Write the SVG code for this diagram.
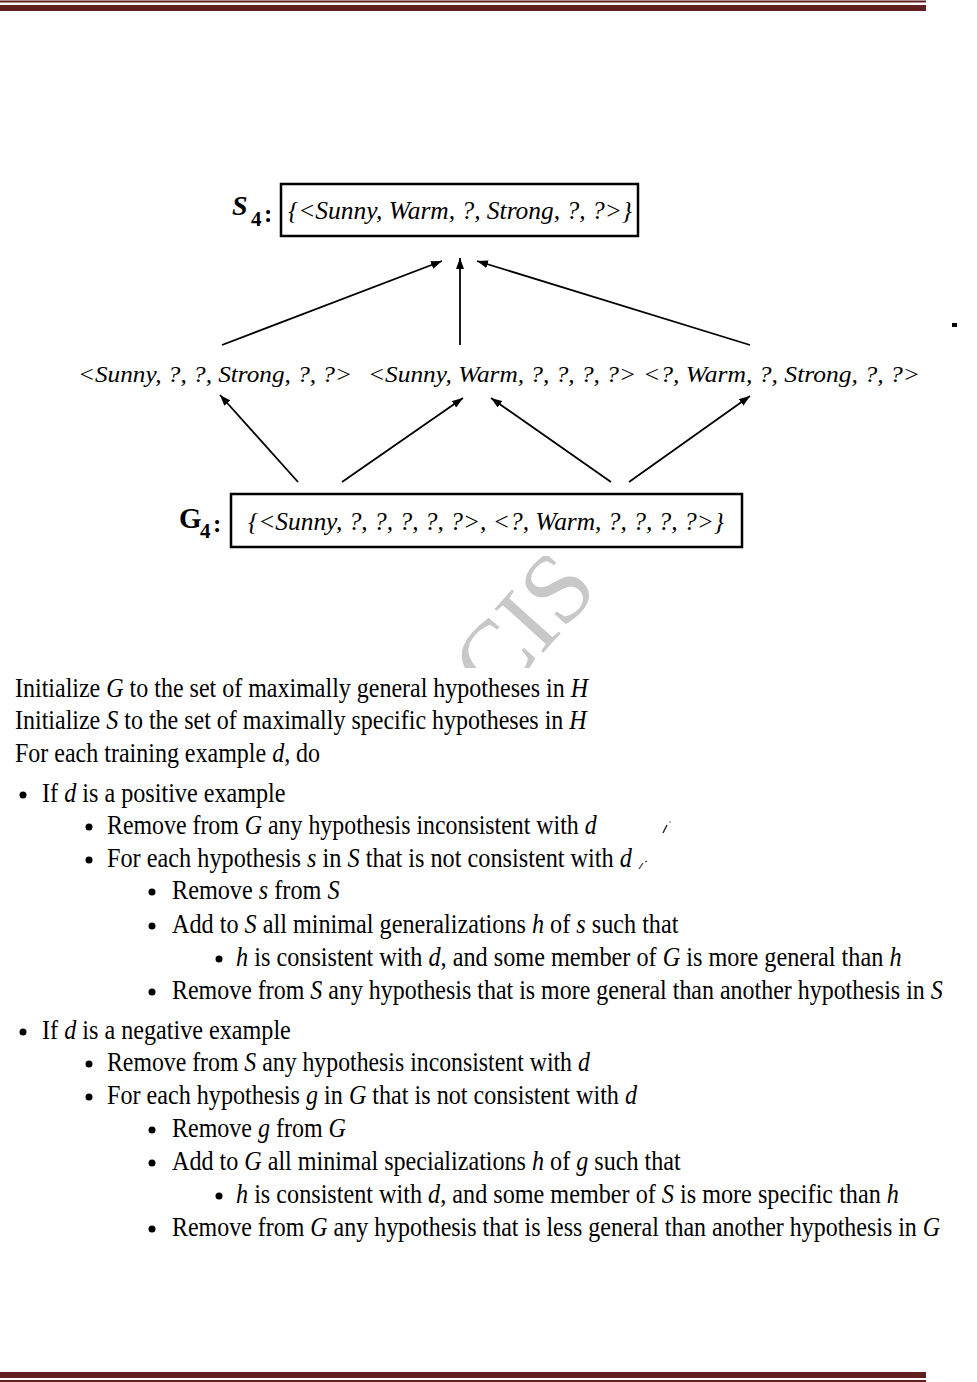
<svg xmlns="http://www.w3.org/2000/svg" width="977" height="1382" viewBox="0 0 977 1382">
<style>
.lbl{font-family:"Liberation Serif","Times New Roman",serif;font-style:italic;font-size:25px;fill:#000}
.mid{font-family:"Liberation Serif","Times New Roman",serif;font-style:italic;font-size:24px;fill:#000}
.sub{font-family:"Liberation Serif","Times New Roman",serif;font-weight:bold;fill:#000}
.box{fill:none;stroke:#000;stroke-width:2.5}
.arr{stroke:#000;stroke-width:1.8;fill:none;marker-end:url(#ah)}
.t{font-family:"Liberation Serif","Times New Roman",serif;font-size:27px;fill:#000}
.i{font-style:italic}
.bul{fill:#000}
.border{fill:#612020}
.wm{font-family:"Liberation Serif","Times New Roman",serif;font-size:100px;fill:#c8c8c8}
</style>
<defs>
<marker id="ah" viewBox="0 0 11 8" refX="11" refY="4" markerWidth="11" markerHeight="8" markerUnits="userSpaceOnUse" orient="auto">
<path d="M0,0 L11,4 L0,8 Z" fill="#000"/>
</marker>
<clipPath id="wmclip"><rect x="400" y="556" width="300" height="112"/></clipPath>
</defs>
<rect width="977" height="1382" fill="#fff"/>
<g id="border-top">
<rect class="border" x="0" y="0.5" width="926" height="2"/>
<rect class="border" x="0" y="5" width="926" height="6"/>
</g>
<g id="border-bottom">
<rect class="border" x="0" y="1372" width="926" height="6"/>
<rect class="border" x="0" y="1380" width="926" height="2"/>
</g>
<g id="watermark" clip-path="url(#wmclip)">
<text class="wm" transform="translate(496,705) rotate(-48)">CIS</text>
</g>
<g id="S4">
<text x="232" y="215" class="sub" font-size="28" font-style="italic">S</text>
<text x="251" y="226" class="sub" font-size="21">4</text>
<text x="264" y="222" class="sub" font-size="25">:</text>
<rect class="box" x="281" y="184" width="357" height="52"/>
<text class="lbl" x="288" y="219" textLength="344" lengthAdjust="spacingAndGlyphs">{&lt;Sunny, Warm, ?, Strong, ?, ?&gt;}</text>
</g>
<g id="H1"><text class="mid" x="78" y="382" textLength="274" lengthAdjust="spacingAndGlyphs">&lt;Sunny, ?, ?, Strong, ?, ?&gt;</text></g>
<g id="H2"><text class="mid" x="368" y="382" textLength="268" lengthAdjust="spacingAndGlyphs">&lt;Sunny, Warm, ?, ?, ?, ?&gt;</text></g>
<g id="H3"><text class="mid" x="643" y="382" textLength="277" lengthAdjust="spacingAndGlyphs">&lt;?, Warm, ?, Strong, ?, ?&gt;</text></g>
<g id="G4">
<text x="179" y="528" class="sub" font-size="29">G</text>
<text x="200" y="538" class="sub" font-size="21">4</text>
<text x="213" y="532" class="sub" font-size="25">:</text>
<rect class="box" x="231" y="494" width="511" height="53"/>
<text class="lbl" x="248" y="530" textLength="476" lengthAdjust="spacingAndGlyphs">{&lt;Sunny, ?, ?, ?, ?, ?&gt;, &lt;?, Warm, ?, ?, ?, ?&gt;}</text>
</g>
<g id="connectors">
<line class="arr" x1="222" y1="345" x2="442" y2="261"/>
<line class="arr" x1="460" y1="345" x2="460" y2="258"/>
<line class="arr" x1="750" y1="345" x2="477" y2="261"/>
<line class="arr" x1="298" y1="482" x2="220" y2="395"/>
<line class="arr" x1="342" y1="482" x2="463" y2="398"/>
<line class="arr" x1="611" y1="482" x2="491" y2="398"/>
<line class="arr" x1="629" y1="482" x2="750" y2="396"/>
</g>
<g id="marks">
<rect x="952" y="323" width="5" height="4" fill="#000"/>
<path d="M663,833 L667,825" stroke="#333" stroke-width="1.6"/>
<circle cx="670" cy="822" r="0.8" fill="#555"/>
<path d="M639,869 L643,863 M645,862 L647,861" stroke="#444" stroke-width="1.3"/>
</g>
<g id="bullets">
<circle class="bul" cx="23" cy="795" r="3.5"/>
<circle class="bul" cx="89" cy="827" r="3.5"/>
<circle class="bul" cx="89" cy="860" r="3.5"/>
<circle class="bul" cx="152" cy="892" r="3.5"/>
<circle class="bul" cx="152" cy="926" r="3.5"/>
<circle class="bul" cx="219" cy="959" r="3.5"/>
<circle class="bul" cx="152" cy="992" r="3.5"/>
<circle class="bul" cx="23" cy="1032" r="3.5"/>
<circle class="bul" cx="89" cy="1064" r="3.5"/>
<circle class="bul" cx="89" cy="1097" r="3.5"/>
<circle class="bul" cx="152" cy="1130" r="3.5"/>
<circle class="bul" cx="152" cy="1163" r="3.5"/>
<circle class="bul" cx="219" cy="1196" r="3.5"/>
<circle class="bul" cx="152" cy="1229" r="3.5"/>
</g>
<g id="algorithm">
<text class="t" transform="translate(15,697) scale(0.889,1)">Initialize <tspan class="i">G</tspan> to the set of maximally general hypotheses in <tspan class="i">H</tspan></text>
<text class="t" transform="translate(15,729) scale(0.889,1)">Initialize <tspan class="i">S</tspan> to the set of maximally specific hypotheses in <tspan class="i">H</tspan></text>
<text class="t" transform="translate(15,762) scale(0.889,1)">For each training example <tspan class="i">d</tspan>, do</text>
<text class="t" transform="translate(42,802) scale(0.895,1)">If <tspan class="i">d</tspan> is a positive example</text>
<text class="t" transform="translate(107,834) scale(0.884,1)">Remove from <tspan class="i">G</tspan> any hypothesis inconsistent with <tspan class="i">d</tspan></text>
<text class="t" transform="translate(107,867) scale(0.899,1)">For each hypothesis <tspan class="i">s</tspan> in <tspan class="i">S</tspan> that is not consistent with <tspan class="i">d</tspan></text>
<text class="t" transform="translate(172,899) scale(0.898,1)">Remove <tspan class="i">s</tspan> from <tspan class="i">S</tspan></text>
<text class="t" transform="translate(172,933) scale(0.896,1)">Add to <tspan class="i">S</tspan> all minimal generalizations <tspan class="i">h</tspan> of <tspan class="i">s</tspan> such that</text>
<text class="t" transform="translate(236,966) scale(0.898,1)"><tspan class="i">h</tspan> is consistent with <tspan class="i">d</tspan>, and some member of <tspan class="i">G</tspan> is more general than <tspan class="i">h</tspan></text>
<text class="t" transform="translate(172,999) scale(0.887,1)">Remove from <tspan class="i">S</tspan> any hypothesis that is more general than another hypothesis in <tspan class="i">S</tspan></text>
<text class="t" transform="translate(42,1039) scale(0.895,1)">If <tspan class="i">d</tspan> is a negative example</text>
<text class="t" transform="translate(107,1071) scale(0.881,1)">Remove from <tspan class="i">S</tspan> any hypothesis inconsistent with <tspan class="i">d</tspan></text>
<text class="t" transform="translate(107,1104) scale(0.894,1)">For each hypothesis <tspan class="i">g</tspan> in <tspan class="i">G</tspan> that is not consistent with <tspan class="i">d</tspan></text>
<text class="t" transform="translate(172,1137) scale(0.889,1)">Remove <tspan class="i">g</tspan> from <tspan class="i">G</tspan></text>
<text class="t" transform="translate(172,1170) scale(0.893,1)">Add to <tspan class="i">G</tspan> all minimal specializations <tspan class="i">h</tspan> of <tspan class="i">g</tspan> such that</text>
<text class="t" transform="translate(236,1203) scale(0.896,1)"><tspan class="i">h</tspan> is consistent with <tspan class="i">d</tspan>, and some member of <tspan class="i">S</tspan> is more specific than <tspan class="i">h</tspan></text>
<text class="t" transform="translate(172,1236) scale(0.887,1)">Remove from <tspan class="i">G</tspan> any hypothesis that is less general than another hypothesis in <tspan class="i">G</tspan></text>
</g>
</svg>
